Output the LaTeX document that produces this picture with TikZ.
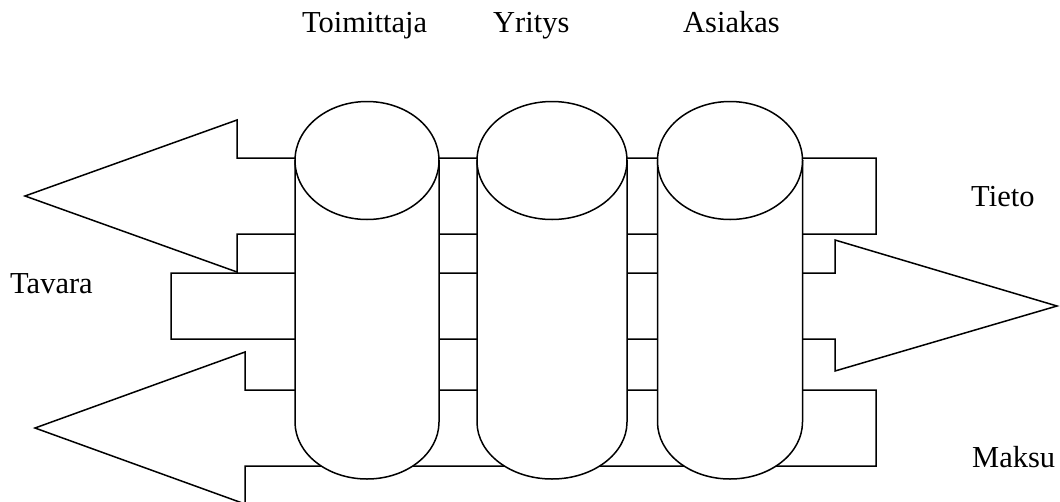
\documentclass[tikz,border=0pt]{standalone}
\usepackage{fontspec}
\setmainfont{Liberation Serif}
\begin{document}
\begin{tikzpicture}[x=1pt,y=-1pt,
  outline/.style={draw=black,line width=1.5pt,fill=white},
  lbl/.style={anchor=base west,inner sep=0pt,font=\fontsize{30.5}{36}\selectfont}]
\useasboundingbox (0,0) rectangle (1060,501);
\begin{scope}
\clip (0,0) rectangle (1060,501);
% flow arrows behind the cylinders
\draw[outline] (876,158) -- (237,158) -- (237,120) -- (25,196) -- (237,272)
  -- (237,234) -- (876,234) -- cycle;
\draw[outline] (171,273) -- (835,273) -- (835,240) -- (1057,306) -- (835,371)
  -- (835,339) -- (171,339) -- cycle;
\draw[outline] (876,390) -- (245,390) -- (245,352) -- (35,428) -- (245,504)
  -- (245,466) -- (876,466) -- cycle;
% the three cylinders
\foreach \cx/\rx in {367/72, 552/75, 730/72.5}{
  \draw[outline] (\cx-\rx,160) -- (\cx-\rx,422)
    arc[start angle=180,end angle=0,x radius=\rx,y radius=57]
    -- (\cx+\rx,160);
  \draw[outline] (\cx,160.5) ellipse[x radius=\rx,y radius=59];
}
\end{scope}
% labels
\node[lbl] (toimittaja) at (302,32) {Toimittaja};
\node[lbl] (yritys) at (493,32) {Yritys};
\node[lbl] (asiakas) at (683,32) {Asiakas};
\node[lbl] (tavara) at (10,293) {Tavara};
\node[lbl] (tieto) at (971,206) {Tieto};
\node[lbl] (maksu) at (972,467) {Maksu};
\end{tikzpicture}
\end{document}
